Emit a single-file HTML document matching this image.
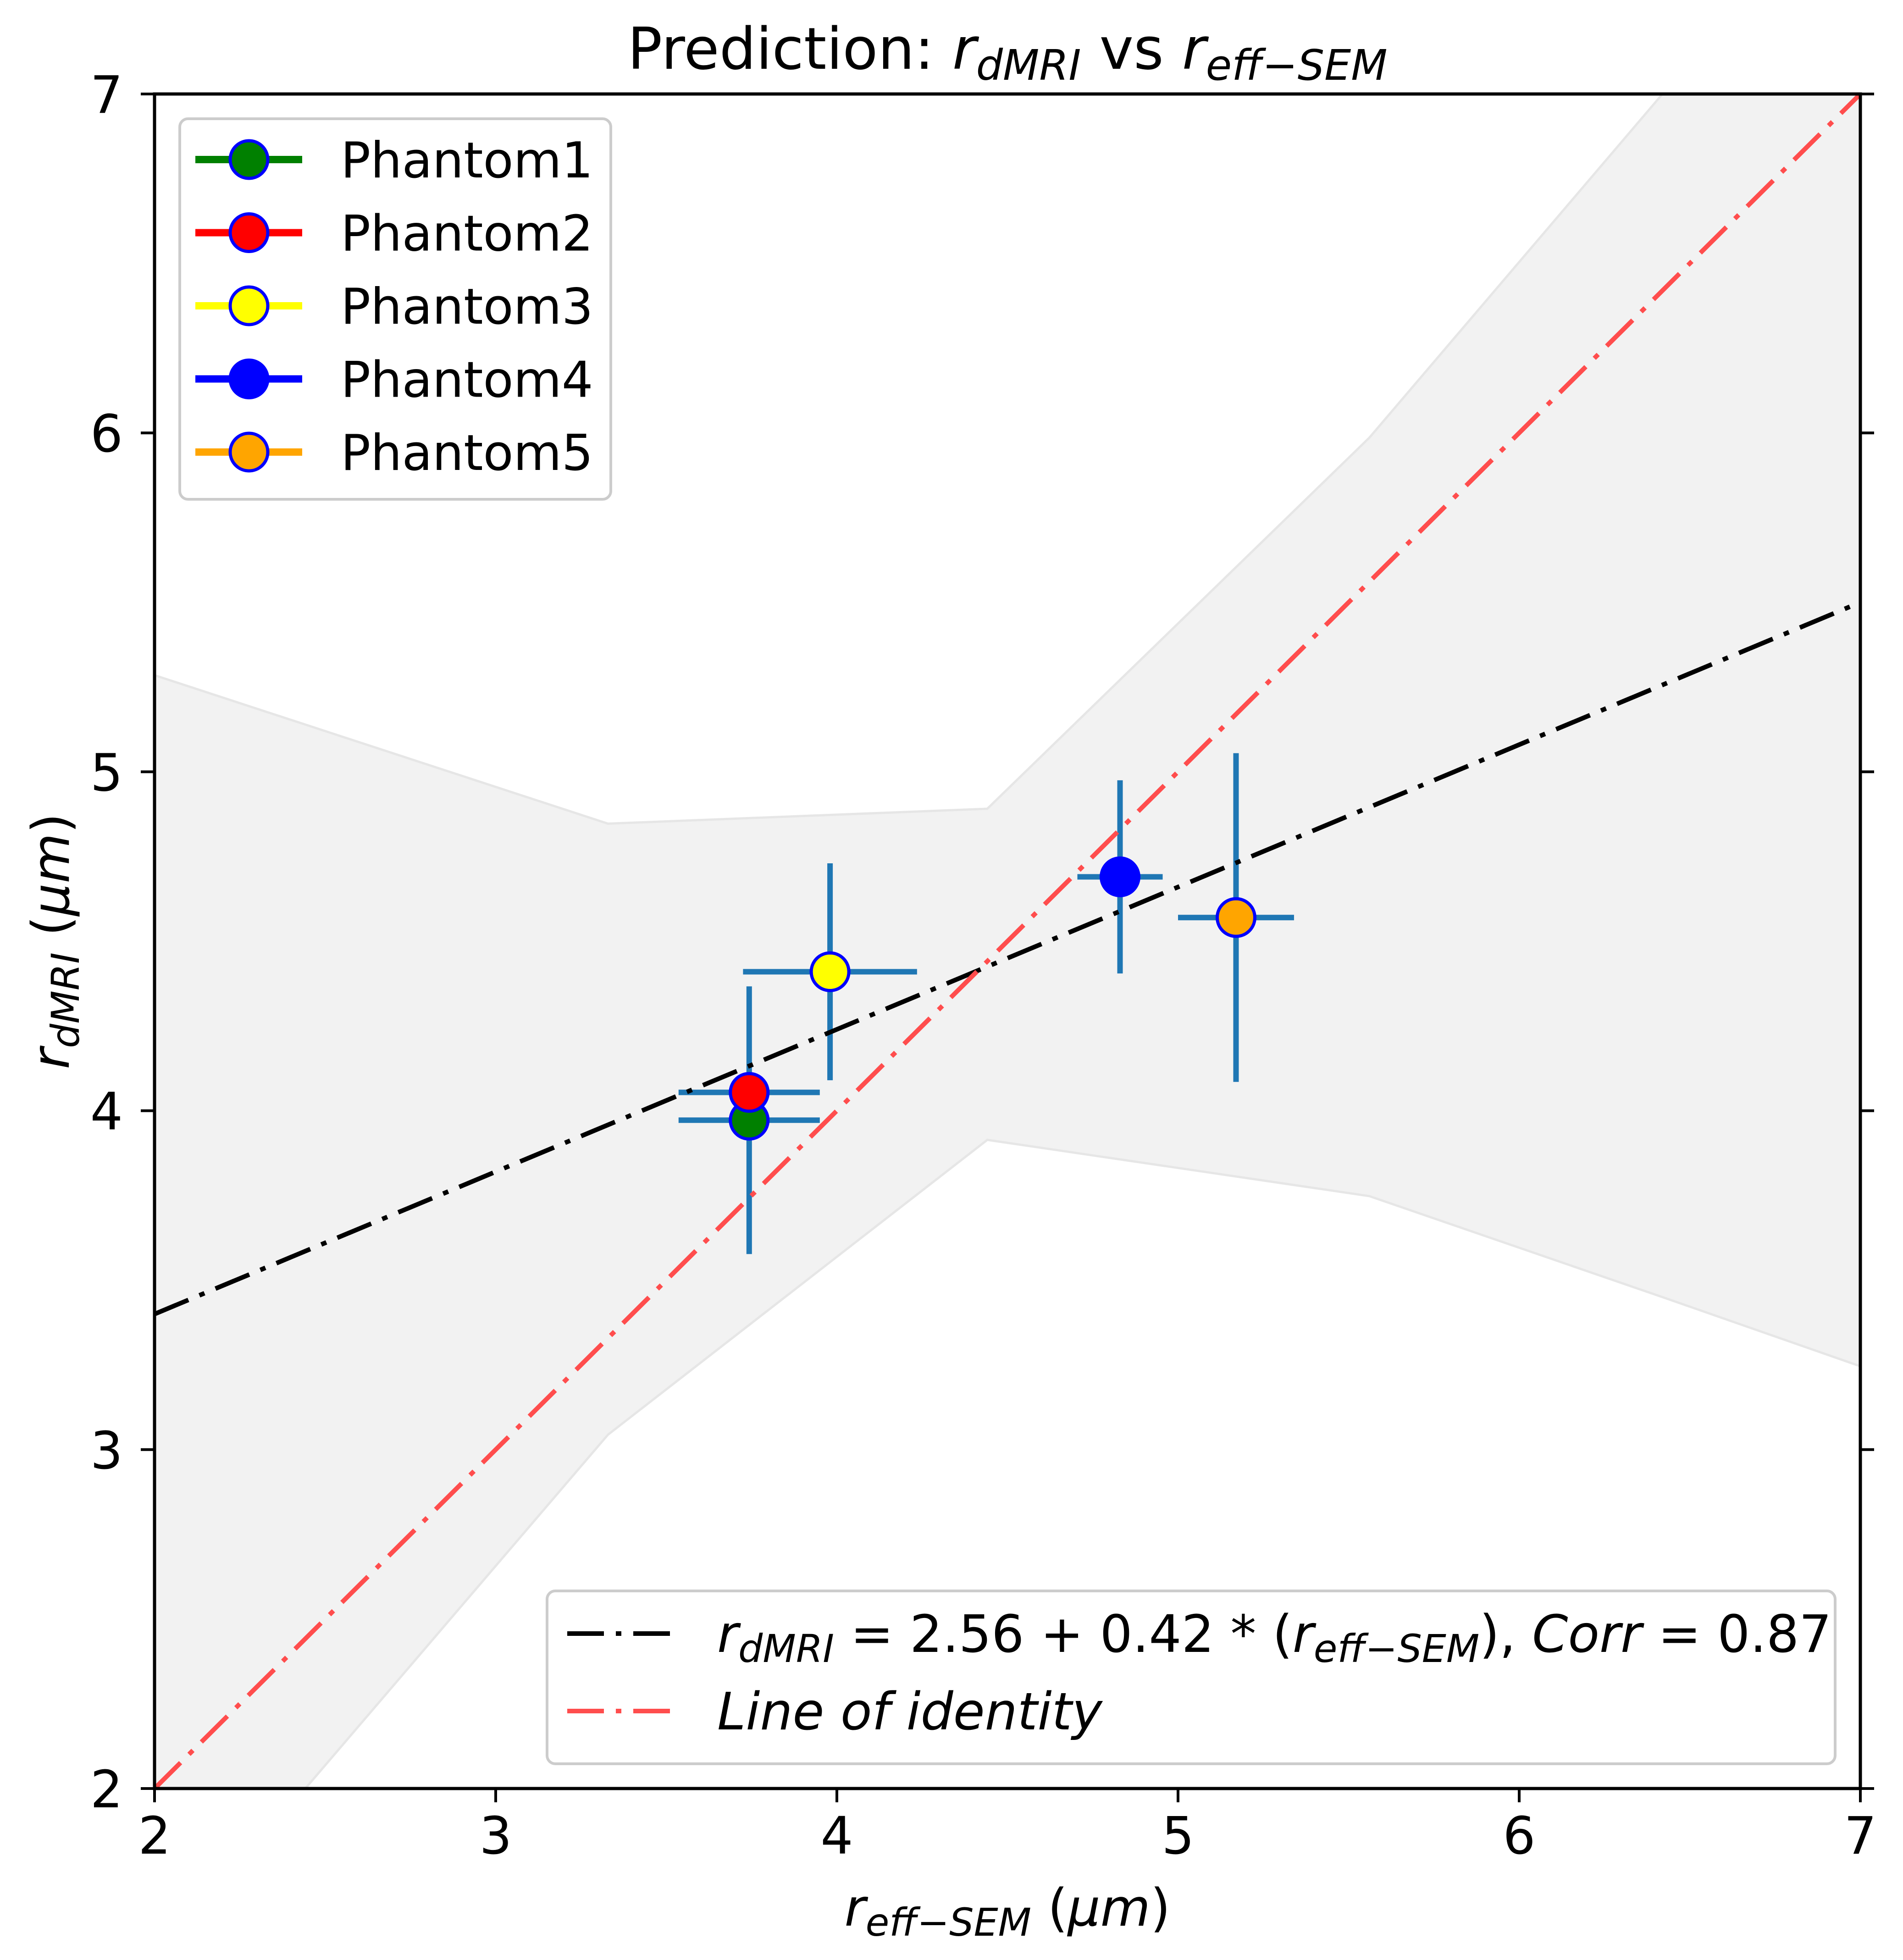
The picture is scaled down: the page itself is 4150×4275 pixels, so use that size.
<!DOCTYPE html>
<html><head><meta charset="utf-8"><style>
html,body{margin:0;padding:0;background:#fff}
svg{display:block}
text{font-family:"DejaVu Sans","Liberation Sans",sans-serif;fill:#000}
</style></head><body>
<svg id="chart" width="4150" height="4275" viewBox="0 0 4150 4275" xmlns="http://www.w3.org/2000/svg">
<defs><clipPath id="plotclip"><rect x="337" y="205" width="3720" height="3696"/></clipPath></defs>
<g id="band" clip-path="url(#plotclip)"></g>
<g id="marks" clip-path="url(#plotclip)"></g>
<g id="lines" clip-path="url(#plotclip)"></g>
<rect x="337" y="205" width="3720" height="3696" fill="none" stroke="#000" stroke-width="7"/>
<g id="ticks"></g>
<text x="2197" y="150" font-size="126" text-anchor="middle">Prediction: <tspan font-style="italic">r</tspan><tspan font-style="italic" font-size="92" dy="24">dMRI</tspan><tspan dy="-24"> vs </tspan><tspan font-style="italic">r</tspan><tspan font-style="italic" font-size="92" dy="24">eff−SEM</tspan></text>
<text x="2197" y="4200" font-size="112" text-anchor="middle"><tspan font-style="italic">r</tspan><tspan font-style="italic" font-size="84" dy="22">eff−SEM</tspan><tspan dy="-22"> (</tspan><tspan font-style="italic">μm</tspan>)</text>
<text transform="translate(150,2053) rotate(-90)" font-size="112" text-anchor="middle"><tspan font-style="italic">r</tspan><tspan font-style="italic" font-size="84" dy="22">dMRI</tspan><tspan dy="-22"> (</tspan><tspan font-style="italic">μm</tspan>)</text>
<g id="legend1">
<rect x="392" y="259" width="940" height="830" rx="18" fill="#fff" fill-opacity="0.8" stroke="#cccccc" stroke-width="6"/>
</g>
<g id="legend2">
<rect x="1193" y="3470" width="2809" height="377" rx="18" fill="#fff" fill-opacity="0.8" stroke="#cccccc" stroke-width="6"/>
<line x1="1237" y1="3563" x2="1474" y2="3563" stroke="#000" stroke-width="10" stroke-dasharray="80 26 12 26"/>
<text x="1564" y="3603" font-size="112"><tspan font-style="italic">r</tspan><tspan font-style="italic" font-size="84" dy="22">dMRI</tspan><tspan dy="-22"> = 2.56 + 0.42 * (</tspan><tspan font-style="italic">r</tspan><tspan font-style="italic" font-size="84" dy="22">eff−SEM</tspan><tspan dy="-22">), </tspan><tspan font-style="italic">Corr</tspan> = 0.87</text>
<line x1="1237" y1="3732" x2="1474" y2="3732" stroke="#ff4d4d" stroke-width="10" stroke-dasharray="80 26 12 26"/>
<text x="1564" y="3772" font-size="112" font-style="italic">Line of identity</text>
</g>
</svg>
<script>
const names = ["Phantom1","Phantom2","Phantom3","Phantom4","Phantom5"];
const colors = ["#008000","#ff0000","#ffff00","#0000ff","#ffa500"];
const xVals = [3.743, 3.743, 3.98, 4.83, 5.17];
const yVals = [3.972, 4.054, 4.41, 4.69, 4.57];
const xErr = [0.207, 0.207, 0.255, 0.125, 0.17];
const yErr = [0.395, 0.0, 0.32, 0.285, 0.485];
const bandX = [2.0, 3.329, 4.441, 5.561, 6.42, 7.0];
const bandUpper = [5.285, 4.847, 4.891, 5.986, 7.0, 7.75];
const bandLower = [1.48, 3.044, 3.914, 3.748, 3.45, 3.246];
const fitIntercept = 2.56, fitSlope = 0.42;
const xTicks = [2,3,4,5,6,7];
const yTicks = [2,3,4,5,6,7];

const NS = "http://www.w3.org/2000/svg";
const L=337,R=4057,T=205,B=3901,xmin=2,xmax=7,ymin=2,ymax=7;
function sx(v){return L+(v-xmin)/(xmax-xmin)*(R-L);}
function sy(v){return B-(v-ymin)/(ymax-ymin)*(B-T);}
function mk(tag,attrs,parent){const e=document.createElementNS(NS,tag);for(const k in attrs)e.setAttribute(k,attrs[k]);parent.appendChild(e);return e;}

const band=document.getElementById('band');
let pts=[];
for(let i=0;i<bandX.length;i++)pts.push(sx(bandX[i])+','+sy(bandUpper[i]));
for(let i=bandX.length-1;i>=0;i--)pts.push(sx(bandX[i])+','+sy(bandLower[i]));
const poly=mk('polygon',{points:pts.join(' '),fill:'#f2f2f2',stroke:'#e6e6e6','stroke-width':5},band);



const marks=document.getElementById('marks');
for(let i=0;i<xVals.length;i++){
  const cx=sx(xVals[i]),cy=sy(yVals[i]);
  const hx=mk('line',{x1:sx(xVals[i]-xErr[i]),x2:sx(xVals[i]+xErr[i]),y1:cy,y2:cy,stroke:'#1f77b4','stroke-width':12},marks);
  
  
  if(yErr[i]>0){
    const vy=mk('line',{x1:cx,x2:cx,y1:sy(yVals[i]-yErr[i]),y2:sy(yVals[i]+yErr[i]),stroke:'#1f77b4','stroke-width':12},marks);
    
    
  }
}
for(let i=0;i<xVals.length;i++){
  const c=mk('circle',{cx:sx(xVals[i]),cy:sy(yVals[i]),r:41,fill:colors[i],stroke:'#0000ff','stroke-width':7},marks);
  
  
}

const lines=document.getElementById('lines');
const fl=mk('line',{x1:sx(xmin),y1:sy(fitIntercept+fitSlope*xmin),x2:sx(xmax),y2:sy(fitIntercept+fitSlope*xmax),stroke:'#000','stroke-width':10,'stroke-dasharray':'80 26 12 26'},lines);


const il=mk('line',{x1:sx(xmin),y1:sy(xmin),x2:sx(xmax),y2:sy(xmax),stroke:'#ff4d4d','stroke-width':10,'stroke-dasharray':'80 26 12 26'},lines);



const tg=document.getElementById('ticks');
xTicks.forEach(v=>{
  const x=sx(v);
  const t=mk('line',{x1:x,x2:x,y1:B,y2:B+30,stroke:'#000','stroke-width':6},tg);
  
  
  const lb=mk('text',{x:x,y:4043,'font-size':112,'text-anchor':'middle'},tg);
  lb.textContent=String(v);
  
  
});
yTicks.forEach(v=>{
  const y=sy(v);
  const t=mk('line',{x1:L-30,x2:L,y1:y,y2:y,stroke:'#000','stroke-width':6},tg);
  
  
  const t2=mk('line',{x1:R,x2:R+30,y1:y,y2:y,stroke:'#000','stroke-width':6},tg);
  
  
  const lb=mk('text',{x:268,y:y+41,'font-size':112,'text-anchor':'end'},tg);
  lb.textContent=String(v);
  
  
});

const lg=document.getElementById('legend1');
for(let i=0;i<names.length;i++){
  const y=348+i*159.5;
  const ln=mk('line',{x1:426,x2:659,y1:y,y2:y,stroke:colors[i],'stroke-width':16},lg);
  
  
  const c=mk('circle',{cx:543,cy:y,r:41,fill:colors[i],stroke:'#0000ff','stroke-width':7},lg);
  
  
  const tx=mk('text',{x:743,y:y+39,'font-size':108},lg);
  tx.textContent=names[i];
  
  
}
</script>
</body></html>
